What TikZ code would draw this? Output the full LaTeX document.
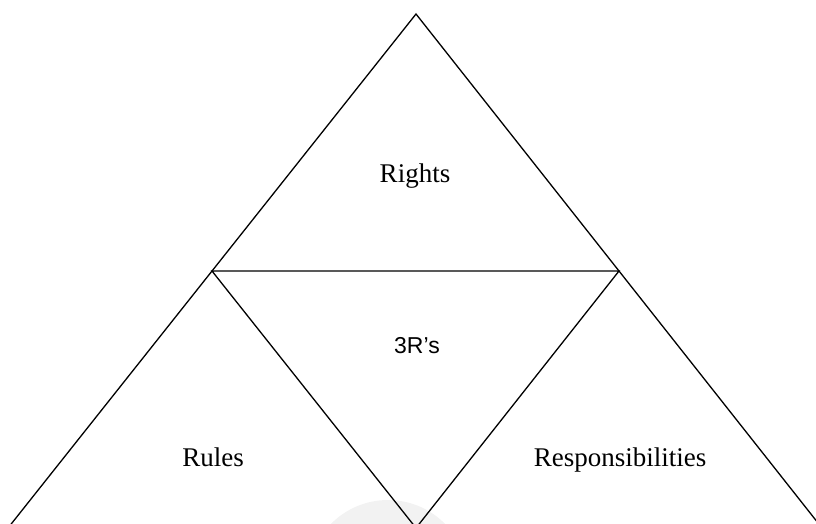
\documentclass[tikz,border=0pt]{standalone}
\usepackage{fontspec}
\setmainfont{Liberation Serif}
\newfontfamily\arialfont{Liberation Sans}
\begin{document}
\begin{tikzpicture}[x=1pt,y=-1pt,
  edge/.style={line width=1.3pt,line join=miter},
  lbl/.style={font=\fontsize{27}{30}\selectfont,anchor=base,inner sep=0pt},
  centrelbl/.style={font=\arialfont\fontsize{23}{26}\selectfont,anchor=base,inner sep=0pt}]
\useasboundingbox (0,0) rectangle (816,523);
\begin{scope}
\clip (0,0) rectangle (816,523);
\fill[gray!10] (388,580) circle[radius=80];
\coordinate (apex) at (416,14);
\coordinate (bl) at (8,528);
\coordinate (br) at (822,528);
\coordinate (ml) at (212,271);
\coordinate (mr) at (619,271);
\coordinate (mb) at (416,528);
\draw[edge] (bl) -- (apex) -- (br);
\draw[edge] (ml) -- (mr) -- (mb) -- cycle;
\end{scope}
\node[lbl] (rights) at (415,182) {Rights};
\node[centrelbl] (threer) at (417,353) {3R’s};
\node[lbl] (rules) at (213,466) {Rules};
\node[lbl] (resp) at (620,466) {Responsibilities};
\end{tikzpicture}
\end{document}
